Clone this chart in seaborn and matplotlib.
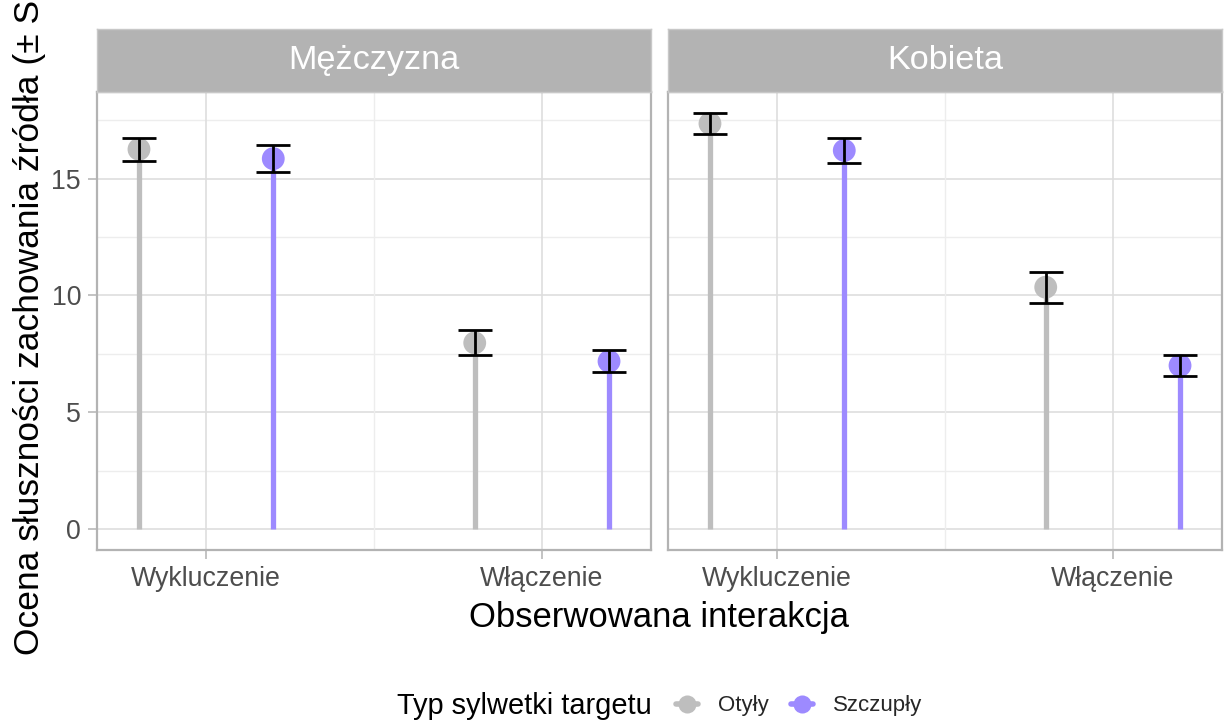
import matplotlib
matplotlib.use("Agg")
import matplotlib.pyplot as plt
import seaborn as sns
import pandas as pd
import numpy as np
from matplotlib.lines import Line2D

# ---- data ----
panels = ["Mężczyzna", "Kobieta"]
categories = ["Wykluczenie", "Włączenie"]
groups = ["Otyły", "Szczupły"]
# order: Wykluczenie-Otyły, Wykluczenie-Szczupły, Włączenie-Otyły, Włączenie-Szczupły
mean_m = [16.25, 15.85, 7.97, 7.18]
se_m = [0.48, 0.58, 0.53, 0.47]
mean_k = [17.35, 16.20, 10.35, 7.00]
se_k = [0.45, 0.53, 0.66, 0.43]
yticks = [0, 5, 10, 15]

colors = {"Otyły": "#BEBEBE", "Szczupły": "#9D8AFF"}

rows = []
for p, (means, ses) in zip(panels, [(mean_m, se_m), (mean_k, se_k)]):
    i = 0
    for c in categories:
        for g in groups:
            rows.append(dict(panel=p, cat=c, grp=g, mean=means[i], se=ses[i]))
            i += 1
df = pd.DataFrame(rows)
df["x"] = df["cat"].map({c: k for k, c in enumerate(categories)}) + df["grp"].map({"Otyły": -0.2, "Szczupły": 0.2})

sns.set_theme(style="white")
plt.rcParams["font.family"] = ["Liberation Sans", "DejaVu Sans"]

W, H = 1225, 726
fig = plt.figure(figsize=(W / 100, H / 100), dpi=100)

def fx(px):
    return px / W

def fy(py):
    return 1 - py / H

panel_x = [(97, 651), (668, 1222)]
top, bottom = 92, 550
strip_top = 29
border = "#B3B3B3"

for pi, p in enumerate(panels):
    x0, x1 = panel_x[pi]
    ax = fig.add_axes([fx(x0), fy(bottom), fx(x1 - x0), (bottom - top) / H])
    sub = df[df.panel == p]
    ax.set_xlim(-0.325, 1.325)
    ax.set_ylim(-0.89, 18.70)
    # grid
    for yv in [2.5, 7.5, 12.5, 17.5]:
        ax.axhline(yv, color="#EDEDED", lw=1.0, zorder=0)
    for yv in yticks:
        ax.axhline(yv, color="#DEDEDE", lw=1.2, zorder=0)
    ax.axvline(0.5, color="#EDEDED", lw=1.0, zorder=0)
    for xv in [0, 1]:
        ax.axvline(xv, color="#DEDEDE", lw=1.2, zorder=0)
    for g in groups:
        s = sub[sub.grp == g]
        ax.vlines(s["x"], 0, s["mean"], color=colors[g], lw=3.8, zorder=2)
    sns.scatterplot(data=sub, x="x", y="mean", hue="grp", palette=colors,
                    s=270, edgecolor="none", legend=False, ax=ax, zorder=3)
    ax.errorbar(sub["x"], sub["mean"], yerr=sub["se"], fmt="none",
                ecolor="black", elinewidth=2.0, capsize=12, capthick=2.0, zorder=4)
    ax.set_xticks([0, 1])
    ax.set_xticklabels(categories)
    ax.set_xlabel("")
    ax.set_ylabel("")
    ax.set_yticks(yticks)
    if pi == 0:
        ax.set_yticklabels([str(v) for v in yticks])
    else:
        ax.set_yticklabels([])
    ax.tick_params(axis="both", labelsize=19.3, labelcolor="#4D4D4D", color=border,
                   length=6.5, width=1.1, pad=5, bottom=True)
    ax.tick_params(axis="y", left=(pi == 0), length=(6.5 if pi == 0 else 0))
    for sp in ax.spines.values():
        sp.set_visible(True)
        sp.set_color(border)
        sp.set_linewidth(1.6)
    # strip
    sax = fig.add_axes([fx(x0), fy(top), fx(x1 - x0), (top - strip_top) / H])
    sax.set_facecolor("#B3B3B3")
    sax.set_xticks([])
    sax.set_yticks([])
    for sp in sax.spines.values():
        sp.set_color("#C8C8C8")
        sp.set_linewidth(1.0)
    sax.text(0.5, 0.5, p, color="white", fontsize=24.7, ha="center", va="center",
             transform=sax.transAxes)

# axis titles
fig.text(fx(659), fy(617), "Obserwowana interakcja", fontsize=24.9, ha="center", va="center", color="black")
fig.text(fx(30), fy(310), "Ocena słuszności zachowania źródła (± SE)", fontsize=25.5,
         rotation=90, ha="center", va="center", color="black")

# legend
fig.text(fx(652), fy(706), "Typ sylwetki targetu", fontsize=20.9, ha="right", va="center", color="black")
handles = [Line2D([0], [0], color=colors[g], lw=4, marker="o", markersize=13, markeredgewidth=0)
           for g in groups]
fig.legend(handles, groups, loc="center left", bbox_to_anchor=(fx(676), fy(706)), ncol=2,
           frameon=False, fontsize=16, handlelength=1.0, handletextpad=0.9, columnspacing=1.0,
           borderpad=0, borderaxespad=0)

fig.savefig("out.png", dpi=100)
